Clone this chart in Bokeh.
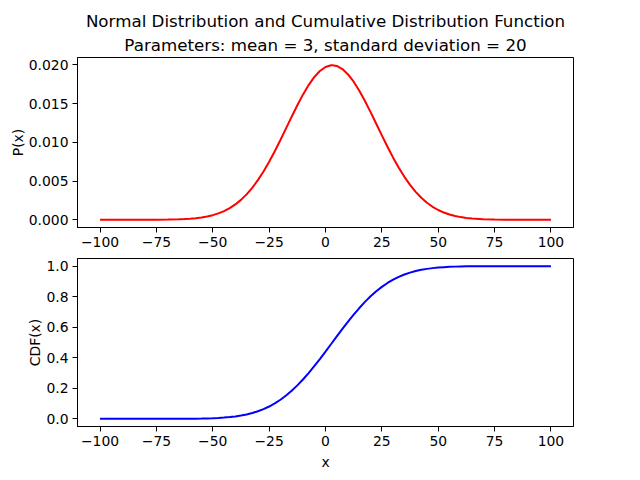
from bokeh.plotting import figure
from bokeh.models import Title, FixedTicker, Range1d, CustomJSTickFormatter, Spacer
from bokeh.layouts import column, row
from bokeh.embed import file_html
from bokeh.resources import INLINE

x_vals = [-100, -95, -90, -85, -80, -75, -70, -65, -62.5, -60, -57.5, -55, -52.5, -50,
          -47.5, -45, -42.5, -40, -37.5, -35, -32.5, -30, -27.5, -25, -22.5, -20, -17.5,
          -15, -12.5, -10, -7.5, -5, -2.5, 0, 2.5, 3, 5, 7.5, 10, 12.5, 15, 17.5, 20,
          22.5, 25, 27.5, 30, 32.5, 35, 37.5, 40, 42.5, 45, 47.5, 50, 52.5, 55, 57.5,
          60, 62.5, 65, 70, 75, 80, 85, 90, 95, 100]
pdf_vals = [0.0, 0.0000001, 0.0000004, 0.0000013, 0.0000036, 0.0000099, 0.0000255,
            0.0000615, 0.0000935, 0.000140, 0.000206, 0.000298, 0.000424, 0.000596,
            0.000823, 0.001120, 0.001499, 0.001977, 0.002567, 0.003281, 0.004127,
            0.005115, 0.006235, 0.007487, 0.008849, 0.010297, 0.011797, 0.013305,
            0.014773, 0.016150, 0.017380, 0.018414, 0.019207, 0.019724, 0.019944,
            0.019947, 0.019848, 0.019448, 0.018763, 0.017819, 0.016662, 0.015338,
            0.013900, 0.012401, 0.010893, 0.009419, 0.008019, 0.006722, 0.005545,
            0.004506, 0.003603, 0.002837, 0.002200, 0.001678, 0.001261, 0.000933,
            0.000679, 0.000487, 0.000344, 0.000239, 0.000163, 0.000073, 0.000031,
            0.000012, 0.000004, 0.000001, 0.0, 0.0]
cdf_vals = [0.0, 0.0, 0.0, 0.0, 0.0, 0.0, 0.0001, 0.0003, 0.0005, 0.0008, 0.0012,
            0.0019, 0.0028, 0.0040, 0.0058, 0.0082, 0.0115, 0.0158, 0.0214, 0.0287,
            0.0380, 0.0495, 0.0636, 0.0808, 0.1011, 0.1251, 0.1527, 0.1841, 0.2192,
            0.2578, 0.2998, 0.3446, 0.3917, 0.4404, 0.4900, 0.5, 0.5398, 0.5890,
            0.6368, 0.6826, 0.7257, 0.7658, 0.8023, 0.8352, 0.8643, 0.8897, 0.9115,
            0.9299, 0.9452, 0.9577, 0.9678, 0.9759, 0.9821, 0.9870, 0.9906, 0.9933,
            0.9953, 0.9968, 0.9978, 0.9985, 0.9990, 0.9996, 0.9998, 1.0, 1.0, 1.0,
            1.0, 1.0]
x_ticks = [-100, -75, -50, -25, 0, 25, 50, 75, 100]
pdf_ticks = [0.0, 0.005, 0.010, 0.015, 0.020]
cdf_ticks = [0.0, 0.2, 0.4, 0.6, 0.8, 1.0]

FONT = "DejaVu Sans"
TICK_FS = "13.9px"
TITLE_FS = "16.7px"

def style(p):
    p.outline_line_color = "black"
    p.outline_line_alpha = 1.0
    p.outline_line_width = 1
    p.grid.visible = False
    for ax in (p.xaxis[0], p.yaxis[0]):
        ax.major_label_text_font = FONT
        ax.major_label_text_font_size = TICK_FS
        ax.major_label_text_color = "black"
        ax.axis_label_text_font = FONT
        ax.axis_label_text_font_size = TICK_FS
        ax.axis_label_text_font_style = "normal"
        ax.axis_label_text_color = "black"
        ax.major_tick_out = 5
        ax.major_tick_in = 0
        ax.minor_tick_out = 0
        ax.minor_tick_in = 0
        ax.axis_line_color = "black"
        ax.major_tick_line_color = "black"
        ax.major_label_standoff = 4
    p.yaxis.axis_label_standoff = 0
    p.xaxis.ticker = FixedTicker(ticks=x_ticks)
    p.xaxis.formatter = CustomJSTickFormatter(code="return tick < 0 ? '\u2212' + Math.abs(tick) : '' + tick;")

p1 = figure(width=624, height=251, frame_width=496, frame_height=170,
            min_border_left=72, min_border_right=56, min_border_top=50, min_border_bottom=31,
            output_backend="svg", toolbar_location=None,
            x_range=Range1d(-110, 110), y_range=Range1d(-0.000997, 0.020944))
p1.line(x_vals, pdf_vals, line_color="#ff0000", line_width=2)
style(p1)
p1.yaxis.ticker = FixedTicker(ticks=pdf_ticks)
p1.yaxis.formatter = CustomJSTickFormatter(code="return tick.toFixed(3);")
p1.yaxis.axis_label = "P(x)"
p1.add_layout(Title(text="Parameters: mean = 3, standard deviation = 20", align="center",
                    text_font=FONT, text_font_size=TITLE_FS, text_font_style="normal",
                    text_color="black", standoff=5, offset=0), "above")
p1.add_layout(Title(text="Normal Distribution and Cumulative Distribution Function", align="center",
                    text_font=FONT, text_font_size=TITLE_FS, text_font_style="normal",
                    text_color="black", standoff=0, offset=0), "above")

p2 = figure(width=624, height=213, frame_width=496, frame_height=168,
            min_border_left=72, min_border_right=56, min_border_top=0, min_border_bottom=45,
            output_backend="svg", toolbar_location=None,
            x_range=Range1d(-110, 110), y_range=Range1d(-0.05, 1.05))
p2.line(x_vals, cdf_vals, line_color="#0000ff", line_width=2)
style(p2)
p2.yaxis.ticker = FixedTicker(ticks=cdf_ticks)
p2.yaxis.formatter = CustomJSTickFormatter(code="return tick.toFixed(1);")
p2.yaxis.axis_label = "CDF(x)"
p2.xaxis.axis_label = "x"

plots = column(Spacer(width=600, height=7), p1, p2, spacing=0)
layout = row(Spacer(width=5, height=10), plots, spacing=0)
open("out.html", "w").write(file_html(layout, INLINE))
